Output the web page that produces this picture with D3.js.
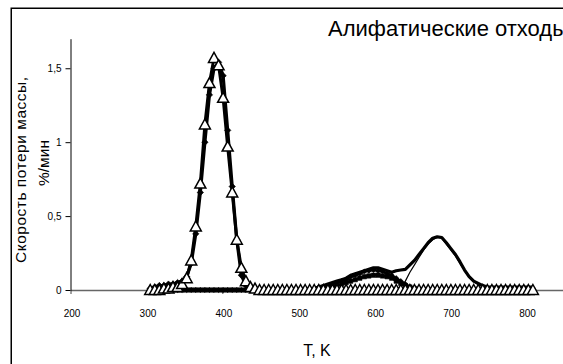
<!DOCTYPE html>
<html>
<head>
<meta charset="utf-8">
<script src="https://cdn.jsdelivr.net/npm/d3@7"></script>
<style>
  body { margin: 0; background: #fff; }
  svg { display: block; font-family: "Liberation Sans", Arial, sans-serif; }
</style>
</head>
<body>
<div id="chart"></div>
<script>
// temperature, K (shared by all runs)
const temps = [305,311,317,323,329,335,341,347,353,359,365,371,377,383,389,395,401,407,413,419,
  425,431,437,443,449,455,461,467,473,479,485,491,497,503,509,515,521,527,533,539,
  545,551,557,563,569,575,581,587,593,599,605,611,617,623,629,635,641,647,653,659,
  665,671,677,683,689,695,701,707,713,719,725,731,737,743,749,755,761,767,773,779,
  785,791,797,803,809];

// mass loss rate, %/min
const runA = [0,0,0,0.01,0.01,0.02,0.02,0.04,0.08,0.2,0.43,0.72,1.12,1.4,1.57,1.52,1.3,0.97,0.66,0.34,
  0.15,0.06,0.02,0.01,0,0,0,0,0,0,0,0,0,0,0,0,0,0,0,0,
  0,0,0,0,0,0,0,0,0,0,0,0,0,0,0,0,0,0,0,0,
  0,0,0,0,0,0,0,0,0,0,0,0,0,0,0,0,0,0,0,0,
  0,0,0,0,0];
const runB = [0.01,0.02,0.03,0.03,0.04,0.04,0.05,0.06,0.09,0.18,0.38,0.66,1.0,1.32,1.5,1.54,1.45,1.08,0.7,0.34,
  0.1,0.03,0.01,0,0,0,0,0,0,0,0,0,0,0,0,0,0,0,0,0,
  0,0,0,0,0,0,0,0,0,0,0,0,0,0,0,0,0,0,0,0,
  0,0,0,0,0,0,0,0,0,0,0,0,0,0,0,0,0,0,0,0,
  0,0,0,0,0];
const runC = [0,0,0,0,0,0,0,0,0,0,0,0,0,0,0,0,0,0,0,0,
  0,0,0,0,0,0,0,0,0,0,0,0,0,0,0,0,0.01,0.02,0.03,0.04,
  0.05,0.06,0.07,0.08,0.1,0.11,0.12,0.13,0.14,0.15,0.15,0.14,0.13,0.12,0.13,0.135,0.14,0.17,0.2,0.24,
  0.28,0.32,0.35,0.36,0.355,0.32,0.28,0.24,0.19,0.135,0.09,0.06,0.045,0.03,0.02,0.02,0.02,0.02,0.02,0.02,
  0.02,0.02,0.02,0.02,0.02];
const runD = [0,0,0,0,0,0,0,0,0,0,0,0,0,0,0,0,0,0,0,0,
  0,0,0,0,0,0,0,0,0,0,0,0,0,0,0,0,0,0,0,0,
  0,0,0,0,0,0,0,0,0,0,0,0,0,0,0.01,0.02,0.06,0.12,0.17,0.22,
  0.27,0.31,0.34,0.355,0.35,0.31,0.27,0.23,0.18,0.13,0.085,0.055,0.035,0.02,0.01,0.01,0.01,0.01,0.01,0.01,
  0.01,0.01,0.01,0.01,0.01];
const runE = [0,0,0,0,0,0,0,0,0,0,0,0,0,0,0,0,0,0,0,0,
  0,0,0,0,0,0,0,0,0,0,0,0,0,0,0,0,0.01,0.02,0.02,0.03,
  0.04,0.05,0.06,0.07,0.09,0.1,0.11,0.125,0.13,0.135,0.13,0.125,0.11,0.1,0.08,0.06,0.04,0.02,0.01,0,
  0,0,0,0,0,0,0,0,0,0,0,0,0,0,0,0,0,0,0,0,
  0,0,0,0,0];
const runF = [0,0,0,0,0,0,0,0,0,0,0,0,0,0,0,0,0,0,0,0,
  0,0,0,0,0,0,0,0,0,0,0,0,0,0,0,0,0,0,0,0.01,
  0.02,0.03,0.04,0.05,0.06,0.07,0.08,0.09,0.095,0.1,0.1,0.095,0.09,0.08,0.06,0.045,0.03,0.02,0.01,0,
  0,0,0,0,0,0,0,0,0,0,0,0,0,0,0,0,0,0,0,0,
  0,0,0,0,0];

const xTicks = [200, 300, 400, 500, 600, 700, 800];
const yTicks = [0, 0.5, 1, 1.5];

const width = 563;
const height = 364;

const svg = d3.select("#chart")
  .append("svg")
  .attr("width", width)
  .attr("height", height);

// outer frame (runs off the right and bottom edges)
svg.append("rect")
  .attr("x", 11.25).attr("y", 8.25)
  .attr("width", 700).attr("height", 500)
  .attr("fill", "none")
  .attr("stroke", "#000")
  .attr("stroke-width", 1.5);

const x = d3.scaleLinear().domain([200, 900]).range([70.5, 602]);
const y = d3.scaleLinear().domain([0, 1.7]).range([290, 38.7]);

// x axis
const xAxis = svg.append("g")
  .attr("transform", "translate(0,290)")
  .call(d3.axisBottom(x).tickValues(xTicks).tickSize(4).tickSizeOuter(0).tickPadding(16));
xAxis.select(".domain").attr("stroke", "#666").attr("stroke-width", 1.3);
xAxis.selectAll(".tick line").attr("stroke", "#444");
xAxis.selectAll("text")
  .attr("dx", 1)
  .style("font-size", "10px")
  .style("font-family", "Liberation Sans, Arial, sans-serif")
  .attr("fill", "#000");

// y axis
const yAxis = svg.append("g")
  .attr("transform", "translate(70.5,0)")
  .call(d3.axisLeft(y).tickValues(yTicks).tickSize(5).tickSizeOuter(0).tickPadding(4)
    .tickFormat(d => String(d).replace(".", ",")));
yAxis.select(".domain").attr("stroke", "#000");
yAxis.selectAll("text")
  .style("font-size", "10px")
  .style("font-family", "Liberation Sans, Arial, sans-serif")
  .attr("fill", "#000");

const line = d3.line()
  .x((d, i) => x(temps[i]))
  .y(d => y(d));

const plot = svg.append("g");

function drawRun(vals, lineWidth) {
  plot.append("path")
    .datum(vals)
    .attr("d", line)
    .attr("fill", "none")
    .attr("stroke", "#000")
    .attr("stroke-width", lineWidth)
    .attr("stroke-linejoin", "round");
}

function drawMarks(vals, shape, fill, strokeW) {
  plot.append("g")
    .selectAll("path")
    .data(vals)
    .join("path")
    .attr("transform", (d, i) => `translate(${x(temps[i])},${y(d)})`)
    .attr("d", shape)
    .attr("fill", fill)
    .attr("stroke", "#000")
    .attr("stroke-width", strokeW);
}

const diamond = "M0,-3.2L3.2,0L0,3.2L-3.2,0Z";
const smallDiamond = "M0,-2.6L2.6,0L0,2.6L-2.6,0Z";
const square = "M-2.2,-2.2H2.2V2.2H-2.2Z";
const triangle = "M0,-5.5L5.5,4.5L-5.5,4.5Z";

drawRun(runF, 2.2);
drawMarks(runF, square, "#000", 0.6);
drawRun(runE, 2.5);
drawMarks(runE, smallDiamond, "#000", 0.6);
drawRun(runD, 1.2);
drawRun(runC, 3.2);
drawRun(runB, 3.2);
drawMarks(runB, diamond, "#000", 0.6);
drawRun(runA, 3);
drawMarks(runA, triangle, "#fff", 1.5);

// titles
svg.append("text")
  .attr("x", 328).attr("y", 36)
  .style("font-size", "22px")
  .text("Алифатические отходы");

svg.append("text")
  .attr("x", 317).attr("y", 356)
  .attr("text-anchor", "middle")
  .style("font-size", "16px")
  .text("T, K");

svg.append("text")
  .attr("transform", "translate(26,170) rotate(-90)")
  .attr("text-anchor", "middle")
  .attr("textLength", 186)
  .attr("lengthAdjust", "spacing")
  .style("font-size", "15.5px")
  .text("Скорость потери массы,");

svg.append("text")
  .attr("transform", "translate(49,163) rotate(-90)")
  .attr("text-anchor", "middle")
  .style("font-size", "15.5px")
  .text("%/мин");
</script>
</body>
</html>
